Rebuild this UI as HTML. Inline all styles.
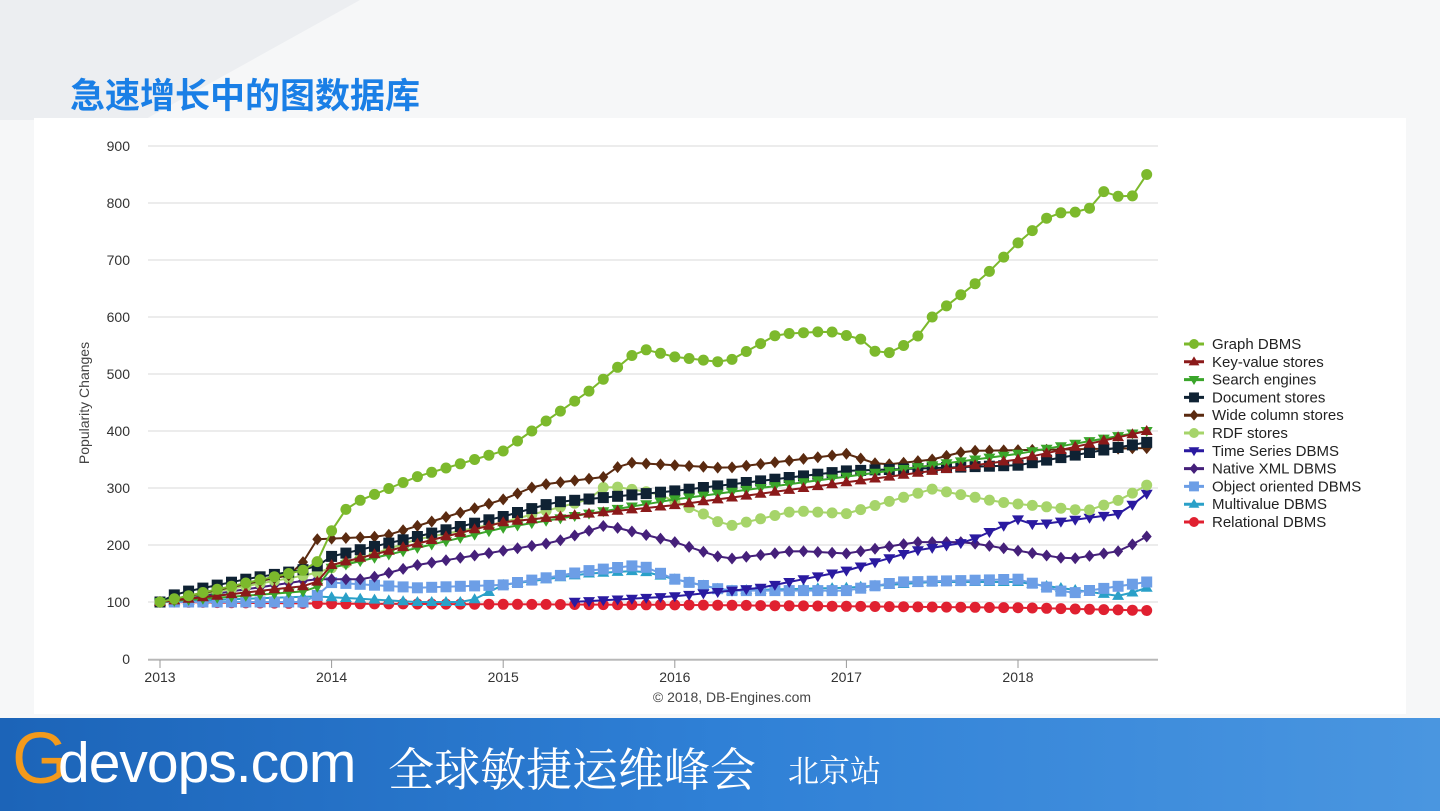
<!DOCTYPE html>
<html><head><meta charset="utf-8"><style>
body{margin:0;width:1440px;height:811px;overflow:hidden;background:#f6f7f8;font-family:"Liberation Sans","Noto Sans CJK SC",sans-serif;position:relative}
.title{position:absolute;left:70px;top:68px;font-size:35px;font-weight:bold;color:#1a7fe6;font-family:"Noto Sans CJK SC",sans-serif;letter-spacing:0px}
.panel{position:absolute;left:34px;top:118px;width:1372px;height:596px;background:#fff}
.footer{position:absolute;left:0;top:718px;width:1440px;height:93px;background:linear-gradient(90deg,#1c64b8,#2f80d6 50%,#4a96e0)}
.footer .g{position:absolute;left:12px;top:0px;font-size:72px;color:#f39a1c;font-family:"Liberation Sans",sans-serif}
.footer .d{position:absolute;left:58px;top:12px;font-size:57px;color:#fff;font-family:"Liberation Sans",sans-serif;letter-spacing:-1px}
.footer .c{position:absolute;left:388px;top:16px;font-size:46px;color:#fff;font-family:"Noto Serif CJK SC",serif}
.footer .s{position:absolute;left:788px;top:28px;font-size:31px;color:#fff;font-family:"Noto Serif CJK SC",serif}
</style></head><body>
<svg style="position:absolute;left:0;top:0" width="1440" height="120"><polygon points="0,0 360,0 0,200" fill="#eceef1"/></svg>
<div class="title">急速增长中的图数据库</div>
<div class="panel"></div>
<svg id="ch" style="position:absolute;left:0;top:0" width="1440" height="720"></svg>
<div class="footer"><span class="g">G</span><span class="d">devops.com</span><span class="c">全球敏捷运维峰会</span><span class="s">北京站</span></div>
<script>
const S=document.getElementById('ch');let h='';
const X=y=>160+(y-2013)*171.6, Y=v=>659-v*0.57;
for(let v=0;v<=900;v+=100){h+=`<line x1="148" x2="1158" y1="${Y(v)}" y2="${Y(v)}" stroke="#d8d8d8"/><text x="130" y="${Y(v)+5}" text-anchor="end" font-size="14" fill="#333">${v}</text>`}
h+=`<line x1="148" x2="1158" y1="660" y2="660" stroke="#999"/>`;
for(let y=2013;y<=2018;y++){h+=`<line x1="${X(y)}" x2="${X(y)}" y1="660" y2="668" stroke="#999"/><text x="${X(y)}" y="682" text-anchor="middle" font-size="14" fill="#333">${y}</text>`}
h+=`<text x="732" y="702" text-anchor="middle" font-size="14" fill="#444">© 2018, DB-Engines.com</text>`;
h+=`<text transform="translate(89,403) rotate(-90)" text-anchor="middle" font-size="14" fill="#444">Popularity Changes</text>`;
const D=[
["Graph DBMS","#7cb92c","c",[[2013,100],[2013.9,160],[2014,225],[2014.1,270],[2014.5,320],[2015,365],[2015.5,470],[2015.8,545],[2016,530],[2016.3,520],[2016.6,570],[2016.9,575],[2017.1,560],[2017.2,530],[2017.4,560],[2017.5,600],[2017.8,670],[2018,730],[2018.2,782],[2018.4,785],[2018.5,820],[2018.65,805],[2018.75,850]]],
["Key-value stores","#8b1a1a","u",[[2013,100],[2013.9,130],[2014,165],[2015,240],[2016,270],[2017,310],[2017.5,330],[2018,350],[2018.75,400]]],
["Search engines","#3aa52a","d",[[2013,100],[2013.9,120],[2014,160],[2015,230],[2016,280],[2017,320],[2018,360],[2018.75,400]]],
["Document stores","#0f2233","s",[[2013,100],[2013.1,115],[2013.5,140],[2013.9,160],[2014,180],[2015,250],[2015.3,275],[2016,295],[2017,330],[2018,340],[2018.75,380]]],
["Wide column stores","#5a2a10","m",[[2013,100],[2013.8,150],[2013.9,210],[2014.3,215],[2015,280],[2015.2,305],[2015.6,320],[2015.7,345],[2016,340],[2016.3,335],[2017,360],[2017.2,340],[2017.5,350],[2017.7,365],[2018.75,370]]],
["RDF stores","#a6d46a","c",[[2013,100],[2013.9,150],[2014.5,210],[2015,240],[2015.5,280],[2015.6,305],[2015.9,290],[2016.2,250],[2016.3,232],[2016.7,260],[2017,255],[2017.5,298],[2017.9,275],[2018.4,260],[2018.6,280],[2018.75,305]]],
["Time Series DBMS","#2a1aa0","d",[[2015.4,100],[2016,110],[2016.5,125],[2017,155],[2017.4,190],[2017.7,205],[2018,245],[2018.1,235],[2018.6,255],[2018.75,290]]],
["Native XML DBMS","#45207a","m",[[2013,100],[2013.9,140],[2014.2,140],[2014.5,165],[2015,190],[2015.3,205],[2015.6,235],[2016,205],[2016.3,175],[2016.7,190],[2017,185],[2017.4,205],[2017.7,205],[2018,190],[2018.3,175],[2018.6,190],[2018.75,215]]],
["Object oriented DBMS","#6c9ee6","s",[[2013,100],[2013.9,100],[2013.95,135],[2014.5,125],[2015,130],[2015.5,155],[2015.8,165],[2016,140],[2016.3,120],[2017,120],[2017.3,135],[2018,140],[2018.3,115],[2018.75,135]]],
["Multivalue DBMS","#2aa0c8","u",[[2013,100],[2013.9,110],[2014.5,100],[2014.8,100],[2015,130],[2015.5,150],[2015.8,155],[2016,140],[2016.3,120],[2017,125],[2017.5,135],[2018,135],[2018.6,110],[2018.75,125]]],
["Relational DBMS","#e02030","c",[[2013,100],[2014,97],[2016,95],[2018,90],[2018.75,85]]]];
function mk(t,x,y,c,r){r=r||1;if(t=='c')return `<circle cx="${x}" cy="${y}" r="${5.5*r}" fill="${c}"/>`;
if(t=='s')return `<rect x="${x-5.5*r}" y="${y-5.5*r}" width="${11*r}" height="${11*r}" fill="${c}"/>`;
if(t=='u')return `<polygon points="${x},${y-6*r} ${x+6*r},${y+4*r} ${x-6*r},${y+4*r}" fill="${c}"/>`;
if(t=='d')return `<polygon points="${x},${y+6*r} ${x+6*r},${y-4*r} ${x-6*r},${y-4*r}" fill="${c}"/>`;
return `<polygon points="${x},${y-6*r} ${x+5*r},${y} ${x},${y+6*r} ${x-5*r},${y}" fill="${c}"/>`}
function val(p,t){for(let i=0;i<p.length-1;i++){if(t>=p[i][0]&&t<=p[i+1][0]+1e-9){const f=(t-p[i][0])/(p[i+1][0]-p[i][0]);return p[i][1]+f*(p[i+1][1]-p[i][1])}}return null}
for(let k=D.length-1;k>=0;k--){const [n,c,t,p]=D[k];let pts=[],m='';
for(let i=0;i<=69;i++){const tt=2013+i/12;if(tt<p[0][0]-1e-9)continue;const v=val(p,Math.min(tt,p[p.length-1][0]));if(v==null)continue;const x=+X(tt).toFixed(1),y=+Y(v).toFixed(1);pts.push(x+','+y);m+=mk(t,x,y,c)}
h+=`<polyline points="${pts.join(' ')}" fill="none" stroke="${c}" stroke-width="2"/>`+m;}
D.forEach((d,i)=>{const y=344+i*17.8;h+=`<line x1="1184" x2="1204" y1="${y}" y2="${y}" stroke="${d[1]}" stroke-width="3"/>`+mk(d[2],1194,y,d[1],0.9)+`<text x="1212" y="${y+5}" font-size="15" fill="#222">${d[0]}</text>`});
S.innerHTML=h;
</script>
</body></html>
